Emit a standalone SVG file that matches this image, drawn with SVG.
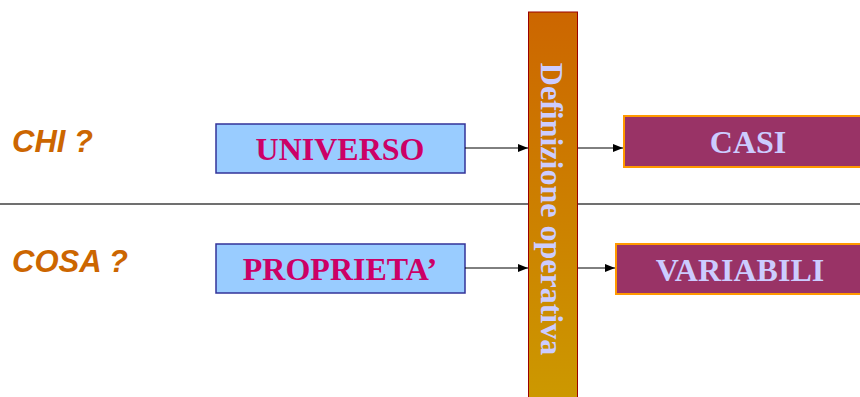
<svg xmlns="http://www.w3.org/2000/svg" width="860" height="397" viewBox="0 0 860 397">
<defs>
<linearGradient id="barGrad" x1="0" y1="0" x2="0" y2="1">
<stop offset="0" stop-color="#CC6600"/>
<stop offset="1" stop-color="#CC9900"/>
</linearGradient>
<marker id="arr" markerWidth="10" markerHeight="8" refX="10" refY="4" orient="auto" markerUnits="userSpaceOnUse">
<path d="M0,0 L10,4 L0,8 Z" fill="#000"/>
</marker>
<style>
.q{font-family:"Liberation Sans",Arial,sans-serif;font-weight:bold;font-style:italic;font-size:31px;fill:#CC6600}
.lbox{fill:#99CCFF;stroke:#333399;stroke-width:1.5}
.ltxt{font-family:"Liberation Serif","Times New Roman",serif;font-weight:bold;font-size:32px;fill:#CC0066;text-anchor:middle}
.rbox{fill:#993366;stroke:#FF9900;stroke-width:2}
.rtxt{font-family:"Liberation Serif","Times New Roman",serif;font-weight:bold;font-size:32px;fill:#CCCCFF;text-anchor:middle}
.conn{stroke:#000;stroke-width:1;fill:none;marker-end:url(#arr)}
</style>
</defs>
<rect width="860" height="397" fill="#fff"/>
<line x1="0" y1="204" x2="860" y2="204" stroke="#404040" stroke-width="1.5"/>
<text class="q" x="12" y="152">CHI ?</text>
<text class="q" x="12" y="272">COSA ?</text>
<g id="bar">
<rect x="528.5" y="12" width="49" height="390" fill="url(#barGrad)" stroke="#990000" stroke-width="1"/>
<text transform="translate(541,209) rotate(90)" x="0" y="0" font-family="'Liberation Serif','Times New Roman',serif" font-weight="bold" font-size="32" fill="#CCCCFF" text-anchor="middle">Definizione operativa</text>
</g>
<g id="universo">
<rect class="lbox" x="216" y="124" width="249" height="49"/>
<text class="ltxt" x="340" y="160">UNIVERSO</text>
</g>
<g id="proprieta">
<rect class="lbox" x="216" y="244" width="249" height="49"/>
<text class="ltxt" x="340" y="280">PROPRIETA’</text>
</g>
<g id="casi">
<rect class="rbox" x="624" y="116" width="248" height="51"/>
<text class="rtxt" x="748" y="153">CASI</text>
</g>
<g id="variabili">
<rect class="rbox" x="616" y="244" width="248" height="50"/>
<text class="rtxt" x="740" y="281">VARIABILI</text>
</g>
<g id="connectors">
<line class="conn" x1="465" y1="148" x2="528" y2="148"/>
<line class="conn" x1="465" y1="268" x2="528" y2="268"/>
<line class="conn" x1="578" y1="148" x2="623" y2="148"/>
<line class="conn" x1="578" y1="268" x2="615" y2="268"/>
</g>
</svg>
